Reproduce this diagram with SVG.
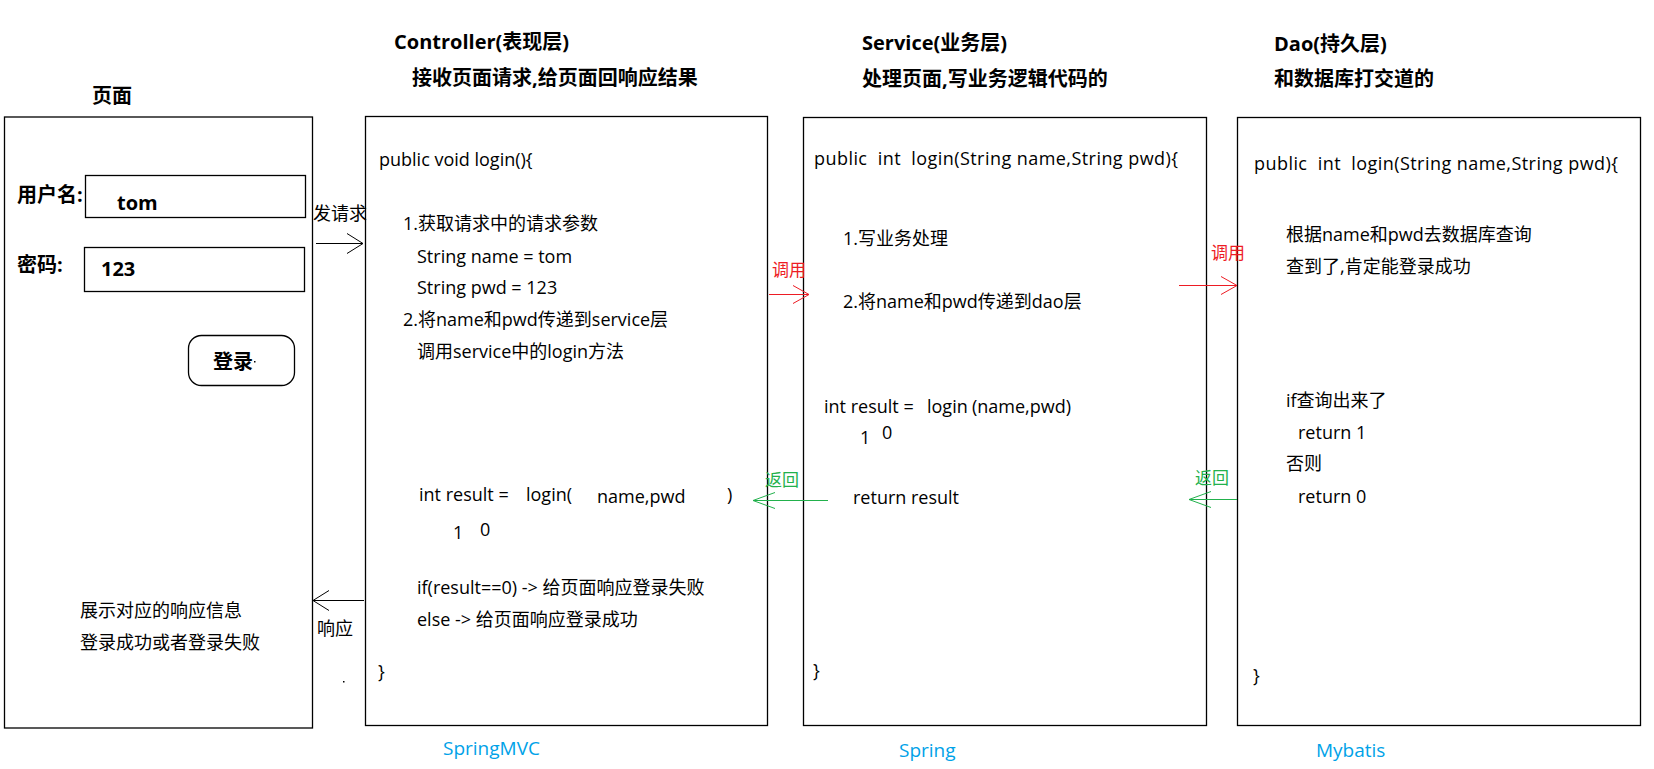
<svg xmlns="http://www.w3.org/2000/svg" width="1654" height="769" viewBox="0 0 1654 769">
<style>
text{font-family:"Open Sans","Noto Sans CJK SC",sans-serif;font-size:18px;fill:#000;white-space:pre}
.b{font-weight:bold;font-size:20px}
.red{fill:#ed1c24;font-size:17px}
.grn{fill:#22b14c;font-size:17px}
.blue{fill:#00a2e8;font-size:19px}
.box{fill:#fff;stroke:#000;stroke-width:1.3}
.conn{fill:none;stroke-width:1}
</style>
<defs>
<marker id="ak" markerWidth="20" markerHeight="22" refX="18" refY="11" orient="auto" markerUnits="userSpaceOnUse"><path d="M2,1 L18,11 L2,21" fill="none" stroke="#000" stroke-width="1"/></marker>
<marker id="ar" markerWidth="20" markerHeight="22" refX="18" refY="11" orient="auto" markerUnits="userSpaceOnUse"><path d="M2,2 L18,11 L2,20" fill="none" stroke="#ed1c24" stroke-width="1"/></marker>
<marker id="ag" markerWidth="26" markerHeight="22" refX="24" refY="11" orient="auto" markerUnits="userSpaceOnUse"><path d="M2,3 L24,11 L2,19" fill="none" stroke="#22b14c" stroke-width="1"/></marker>
</defs>
<rect width="1654" height="769" fill="#fff"/>

<g id="page">
<text class="b" x="92" y="103">页面</text>
<rect class="box" x="4.5" y="117" width="308" height="611"/>
<text class="b" x="17" y="202">用户名:</text>
<rect class="box" x="85.5" y="175.5" width="220" height="42"/>
<text class="b" x="117" y="210">tom</text>
<text class="b" x="17" y="272">密码:</text>
<rect class="box" x="84.5" y="247.5" width="220" height="44"/>
<text class="b" x="101" y="276">123</text>
<rect class="box" x="188.5" y="335.5" width="106" height="50" rx="13"/>
<text class="b" x="213" y="369">登录</text>
<rect x="254" y="361" width="1.5" height="1.5" fill="#000"/>
<text x="80" y="617">展示对应的响应信息</text>
<text x="80" y="649">登录成功或者登录失败</text>
</g>

<g id="controller">
<text class="b" x="394" y="49">Controller(表现层)</text>
<text class="b" x="412" y="85">接收页面请求,给页面回响应结果</text>
<rect class="box" x="365.5" y="116.5" width="402" height="609"/>
<text x="379" y="166">public void login(){</text>
<text x="403" y="230">1.获取请求中的请求参数</text>
<text x="417" y="263">String name = tom</text>
<text x="417" y="294">String pwd = 123</text>
<text x="403" y="326">2.将name和pwd传递到service层</text>
<text x="417" y="358">调用service中的login方法</text>
<text x="419" y="501">int result =</text>
<text x="526" y="501">login(</text>
<text x="597" y="503">name,pwd</text>
<text x="727" y="501">)</text>
<text x="453" y="539">1</text>
<text x="480" y="536">0</text>
<text x="417" y="594">if(result==0) -&gt; 给页面响应登录失败</text>
<text x="417" y="626">else -&gt; 给页面响应登录成功</text>
<text x="378" y="678">}</text>
<text class="blue" x="443" y="755">SpringMVC</text>
</g>

<g id="service">
<text class="b" x="862" y="50">Service(业务层)</text>
<text class="b" x="862" y="86">处理页面,写业务逻辑代码的</text>
<rect class="box" x="803.5" y="117.5" width="403" height="608"/>
<text x="814" y="165" textLength="364" lengthAdjust="spacing">public  int  login(String name,String pwd){</text>
<text x="843" y="245">1.写业务处理</text>
<text x="843" y="308">2.将name和pwd传递到dao层</text>
<text x="824" y="413">int result =</text>
<text x="927" y="413">login</text>
<text x="972" y="413">(name,pwd)</text>
<text x="860" y="444">1</text>
<text x="882" y="439">0</text>
<text x="853" y="504">return result</text>
<text x="813" y="677">}</text>
<text class="blue" x="899" y="757">Spring</text>
</g>

<g id="dao">
<text class="b" x="1274" y="51">Dao(持久层)</text>
<text class="b" x="1274" y="86">和数据库打交道的</text>
<rect class="box" x="1237.5" y="117.5" width="403" height="608"/>
<text x="1254" y="170" textLength="364" lengthAdjust="spacing">public  int  login(String name,String pwd){</text>
<text x="1286" y="241">根据name和pwd去数据库查询</text>
<text x="1286" y="273">查到了,肯定能登录成功</text>
<text x="1286" y="407">if查询出来了</text>
<text x="1298" y="439">return 1</text>
<text x="1286" y="470">否则</text>
<text x="1298" y="503">return 0</text>
<text x="1253" y="682">}</text>
<text class="blue" x="1316" y="757">Mybatis</text>
</g>

<g id="connectors">
<path class="conn" d="M316,243.5 H363" stroke="#000" marker-end="url(#ak)"/>
<text x="313" y="220">发请求</text>
<path class="conn" d="M364,600.5 H313" stroke="#000" marker-end="url(#ak)"/>
<text x="317" y="635">响应</text>
<rect x="343" y="681" width="1.5" height="1.5" fill="#000"/>
<path class="conn" d="M769,294.5 H809" stroke="#ed1c24" marker-end="url(#ar)"/>
<text class="red" x="772" y="276">调用</text>
<path class="conn" d="M1179,285.5 H1237" stroke="#ed1c24" marker-end="url(#ar)"/>
<text class="red" x="1211" y="259">调用</text>
<path class="conn" d="M828,500.5 H753" stroke="#22b14c" marker-end="url(#ag)"/>
<text class="grn" x="765" y="486">返回</text>
<path class="conn" d="M1237,499.5 H1189" stroke="#22b14c" marker-end="url(#ag)"/>
<text class="grn" x="1195" y="484">返回</text>
</g>
</svg>
